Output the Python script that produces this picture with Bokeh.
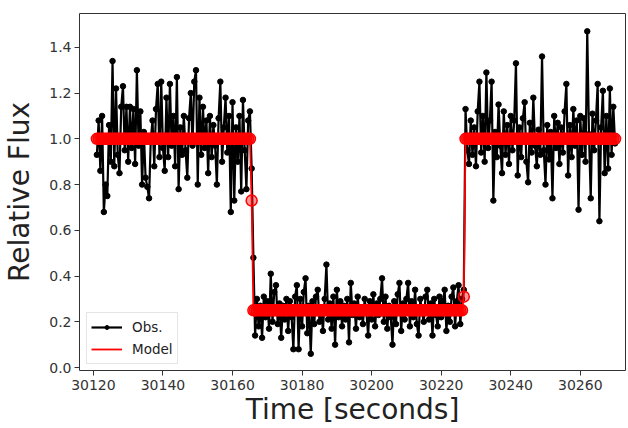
from bokeh.plotting import figure
from bokeh.models import FixedTicker, PrintfTickFormatter, Legend, LegendItem, Range1d
from bokeh.embed import file_html
from bokeh.resources import INLINE

# ---- data ----
T0 = 30121.0          # first sample time [s]
CADENCE = 0.5         # sampling step [s]

# out-of-transit, before ingress (30121.0 .. 30165.0)
flux_pre = [0.93, 1.08, 0.86, 1.10, 0.68, 0.80, 0.75, 1.06, 0.90, 1.34,
            0.88, 1.22, 0.93, 0.85, 1.14, 1.23, 0.95, 1.14, 0.90, 1.14,
            0.96, 1.13, 0.89, 1.30, 0.97, 1.12, 0.80, 1.03, 0.83, 0.79,
            0.74, 1.00, 1.08, 0.88, 1.13, 1.24, 0.92, 1.25, 0.96, 0.86,
            1.18, 0.92, 1.24, 0.97, 1.10, 0.88, 1.27, 0.78, 1.05, 0.93,
            1.10, 0.95, 0.83, 1.09, 1.20, 0.97, 1.25, 1.30, 0.80, 1.18,
            0.93, 1.14, 0.96, 1.08, 0.85, 1.10, 0.92, 1.06, 0.97, 0.80,
            1.09, 1.25, 0.90, 1.05, 1.18, 0.94, 1.10, 0.68, 1.16, 0.73,
            1.05, 0.90, 1.10, 0.77, 1.17, 0.95, 0.78, 1.08, 1.12]
flux_ingress = [0.87]
# in transit (30166.0 .. 30226.0)
flux_in = [0.48, 0.14, 0.30, 0.18, 0.27, 0.13, 0.31, 0.22, 0.29, 0.17,
           0.41, 0.20, 0.33, 0.36, 0.19, 0.28, 0.13, 0.27, 0.21, 0.30,
           0.16, 0.29, 0.22, 0.08, 0.31, 0.36, 0.08, 0.30, 0.18, 0.33,
           0.39, 0.15, 0.27, 0.06, 0.29, 0.19, 0.31, 0.34, 0.20, 0.26,
           0.16, 0.30, 0.45, 0.21, 0.28, 0.17, 0.31, 0.10, 0.34, 0.22,
           0.29, 0.18, 0.27, 0.21, 0.30, 0.11, 0.37, 0.23, 0.28, 0.17,
           0.31, 0.22, 0.26, 0.19, 0.30, 0.24, 0.14, 0.29, 0.21, 0.32,
           0.18, 0.28, 0.23, 0.30, 0.39, 0.20, 0.31, 0.17, 0.27, 0.22,
           0.10, 0.29, 0.19, 0.32, 0.37, 0.16, 0.28, 0.21, 0.30, 0.37,
           0.18, 0.29, 0.22, 0.34, 0.19, 0.14, 0.30, 0.24, 0.20, 0.31,
           0.34, 0.21, 0.28, 0.14, 0.30, 0.23, 0.18, 0.31, 0.22, 0.29,
           0.34, 0.16, 0.27, 0.20, 0.31, 0.35, 0.18, 0.29, 0.36, 0.19,
           0.30]
flux_egress = [0.34]
# out-of-transit, after egress (30227.0 .. 30270.0)
flux_post = [1.13, 0.95, 0.89, 1.08, 0.93, 1.05, 0.88, 1.12, 1.25, 0.94,
             1.10, 0.90, 1.29, 0.96, 1.08, 1.25, 0.73, 1.03, 0.92, 1.15,
             0.97, 0.85, 1.12, 0.93, 1.06, 0.89, 1.10, 0.95, 1.08, 1.33,
             0.84, 1.05, 0.92, 1.09, 1.16, 0.90, 0.81, 1.07, 0.94, 1.18,
             0.97, 0.88, 1.04, 0.93, 1.36, 0.95, 0.80, 1.06, 0.91, 1.03,
             0.74, 1.10, 0.96, 1.07, 0.89, 1.05, 0.94, 1.12, 1.24, 0.84,
             1.06, 0.92, 1.13, 0.97, 1.08, 0.69, 1.10, 0.93, 1.09, 0.90,
             1.47, 1.02, 0.74, 1.11, 0.95, 1.08, 1.24, 0.64, 1.05, 1.21,
             0.85, 1.10, 0.87, 1.22, 0.93, 1.14, 0.98]

# step model
model_out = 1.0
model_in = 0.25
model_ingress = 0.73
model_egress = 0.31

x_ticks = [30120, 30140, 30160, 30180, 30200, 30220, 30240, 30260]
y_ticks = [0.0, 0.2, 0.4, 0.6, 0.8, 1.0, 1.2, 1.4]

obs_flux = flux_pre + flux_ingress + flux_in + flux_egress + flux_post
model_flux = ([model_out] * len(flux_pre) + [model_ingress] +
              [model_in] * len(flux_in) + [model_egress] +
              [model_out] * len(flux_post))
time = [T0 + CADENCE * i for i in range(len(obs_flux))]

# ---- figure ----
p = figure(width=628, height=428, output_backend="svg", toolbar_location=None,
           x_range=Range1d(30116.0, 30273.0), y_range=Range1d(-0.013, 1.548),
           min_border_left=78, min_border_right=3, min_border_top=13,
           min_border_bottom=56)
p.background_fill_color = "white"
p.border_fill_color = "white"
p.outline_line_color = "#333333"
p.outline_line_width = 1
p.xgrid.visible = False
p.ygrid.visible = False

obs_line = p.line(time, obs_flux, line_color="black", line_width=2.2)
obs_pts = p.scatter(time, obs_flux, size=5.5, marker="circle",
                    fill_color="black", line_color="black")
mod_line = p.line(time, model_flux, line_color="red", line_width=1.8)
p.scatter(time, model_flux, size=11, marker="circle", line_color="red",
          line_width=1.5, fill_color="red", fill_alpha=0.4)

for ax in (p.xaxis[0], p.yaxis[0]):
    ax.axis_line_color = None
    ax.major_tick_line_color = "#333333"
    ax.major_tick_in = 0
    ax.major_tick_out = 5
    ax.minor_tick_line_color = None
    ax.major_label_text_font = "DejaVu Sans"
    ax.major_label_text_font_size = "14px"
    ax.major_label_text_color = "#333333"
    ax.axis_label_text_font = "DejaVu Sans"
    ax.axis_label_text_font_size = "28px"
    ax.axis_label_text_font_style = "normal"
    ax.axis_label_text_color = "#222222"

p.xaxis.ticker = FixedTicker(ticks=x_ticks)
p.yaxis.ticker = FixedTicker(ticks=y_ticks)
p.xaxis.formatter = PrintfTickFormatter(format="%d")
p.yaxis.formatter = PrintfTickFormatter(format="%.1f")
p.xaxis.axis_label = "Time [seconds]"
p.yaxis.axis_label = "Relative Flux"
p.xaxis.major_label_standoff = 4
p.yaxis.major_label_standoff = 3
p.xaxis.axis_label_standoff = 0
p.yaxis.axis_label_standoff = 10

legend = Legend(items=[LegendItem(label="Obs.", renderers=[obs_line, obs_pts]),
                       LegendItem(label="Model", renderers=[mod_line])],
                location=(7, 6), orientation="vertical")
legend.label_text_font = "DejaVu Sans"
legend.label_text_font_size = "13.5px"
legend.label_text_color = "#222222"
legend.glyph_width = 31
legend.glyph_height = 10
legend.label_height = 20
legend.label_standoff = 10
legend.spacing = 2
legend.padding = 4
legend.margin = 0
legend.border_line_color = "#cccccc"
legend.border_line_width = 1
legend.background_fill_alpha = 0.8
p.add_layout(legend, "center")

open("out.html", "w").write(file_html(p, INLINE))
